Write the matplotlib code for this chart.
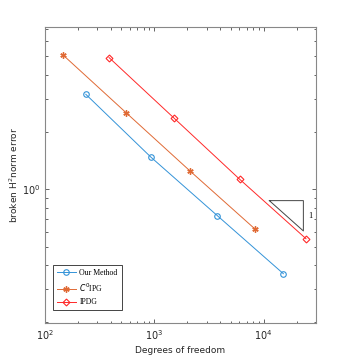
import numpy as np
import matplotlib
matplotlib.use('Agg')
import matplotlib.pyplot as plt
from matplotlib.ticker import LogLocator, NullFormatter

# degrees of freedom and broken H2 error for each method
dof_ours = [236, 933, 3767, 15136]
err_ours = [3.16, 1.474, 0.727, 0.360]
dof_c0ipg = [147, 551, 2119, 8337]
err_c0ipg = [5.07, 2.53, 1.249, 0.618]
dof_ipdg = [385, 1524, 6026, 24378]
err_ipdg = [4.93, 2.36, 1.13, 0.550]

# slope triangle corners
tri_x = [11270, 23070, 23070, 11270]
tri_y = [0.872, 0.872, 0.604, 0.872]

fig = plt.figure(figsize=(3.49, 3.63), dpi=100)
ax = fig.add_axes([0.129, 0.110, 0.776, 0.816])

asterisk = (6, 2, 0)
ax.loglog(dof_ours, err_ours, '-o', color='#3393D8', lw=0.7, ms=4, mfc='none', mew=0.8, label='Our Method')
ax.loglog(dof_c0ipg, err_c0ipg, '-', marker=asterisk, color='#E06A35', lw=0.7, ms=4.5, mew=1.0, label='$C^0$IPG')
ax.loglog(dof_ipdg, err_ipdg, '-D', color='#FF2828', lw=0.7, ms=3.5, mfc='none', mew=0.8, label='IPDG')

ax.plot(tri_x, tri_y, color='#444444', lw=0.7)
ax.text(25700, 0.727, '1', fontsize=6, family='Liberation Serif', va='center', ha='left')

ax.set_xlim(100, 3.0e4)
ax.set_ylim(0.198, 7.15)

ax.xaxis.set_major_locator(LogLocator(base=10, numticks=10))
ax.xaxis.set_minor_locator(LogLocator(base=10, subs=np.arange(2, 10), numticks=10))
ax.yaxis.set_major_locator(LogLocator(base=10, numticks=10))
ax.yaxis.set_minor_locator(LogLocator(base=10, subs=np.arange(2, 10), numticks=10))
ax.xaxis.set_minor_formatter(NullFormatter())
ax.yaxis.set_minor_formatter(NullFormatter())

ax.tick_params(which='both', direction='in', top=True, right=True, labelsize=7, colors='#262626', width=0.5)
ax.tick_params(which='major', length=3)
ax.tick_params(which='minor', length=1.8)
for s in ax.spines.values():
    s.set_color('#888888')
    s.set_linewidth(0.8)

ax.set_xlabel('Degrees of freedom', fontsize=6.5, color='#262626', labelpad=3)
ax.set_ylabel('broken H$^2$norm error', fontsize=6.5, color='#262626')
ax.yaxis.set_label_coords(-0.092, 0.5)

leg = ax.legend(loc='lower left', prop={'family': 'Liberation Serif', 'size': 5.6}, fancybox=False,
                edgecolor='#262626', framealpha=1, handlelength=2.4, borderpad=0.5, labelspacing=0.6,
                handletextpad=0.5, bbox_to_anchor=(0.015, 0.03))
leg.get_frame().set_linewidth(0.6)

fig.savefig('out.png', dpi=100)
